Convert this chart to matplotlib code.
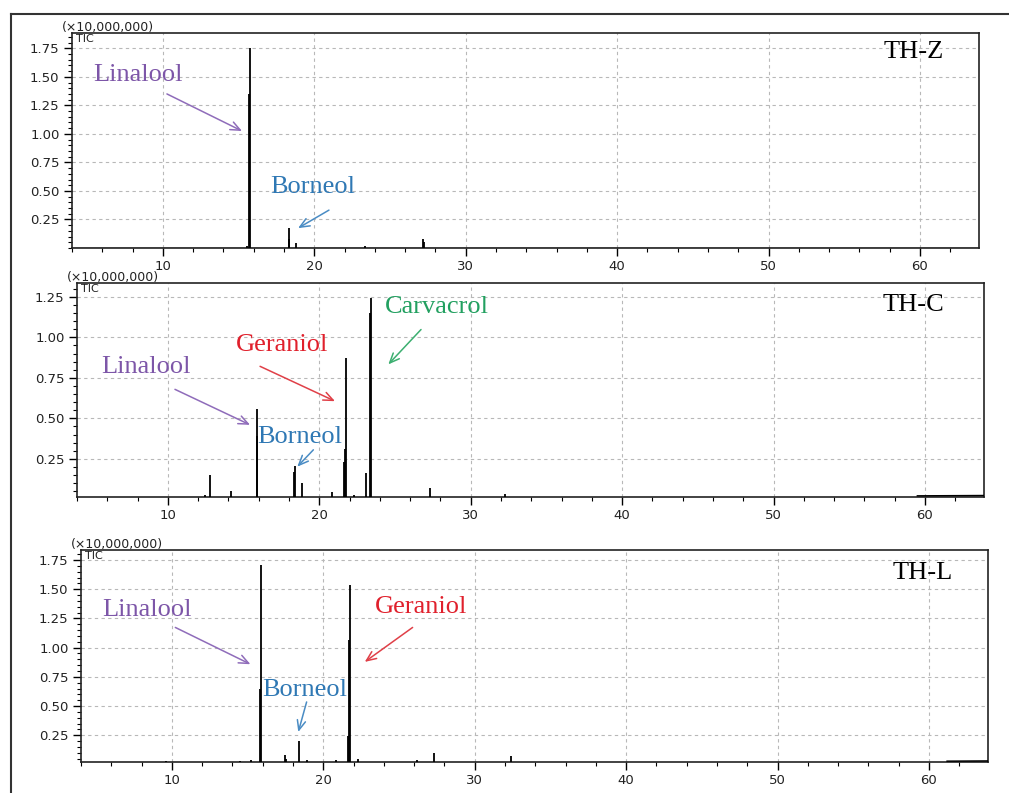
import matplotlib
matplotlib.use('Agg')
import matplotlib.pyplot as plt
from matplotlib.ticker import MultipleLocator, FixedLocator
from matplotlib.lines import Line2D

# retention time (min) and peak height (x 10,000,000)
rt_z = [15.55, 15.72, 15.76, 18.31, 18.36, 18.80, 23.35, 27.20, 27.25]
h_z  = [0.02, 1.35, 1.75, 0.171, 0.08, 0.048, 0.02, 0.077, 0.05]

rt_c = [12.45, 12.78, 14.20, 15.87, 15.91, 18.36, 18.40, 18.86, 20.82, 21.66,
        21.72, 21.75, 22.30, 23.07, 23.38, 23.42, 27.31, 32.27]
h_c  = [0.03, 0.153, 0.054, 0.39, 0.555, 0.167, 0.208, 0.10, 0.043, 0.233,
        0.31, 0.872, 0.03, 0.163, 1.147, 1.24, 0.07, 0.035]

rt_l = [9.60, 14.50, 15.20, 15.85, 15.88, 17.50, 17.55, 18.39, 18.90, 20.87,
        21.66, 21.72, 21.75, 22.30, 26.19, 27.33, 32.41]
h_l  = [0.03, 0.03, 0.035, 0.65, 1.707, 0.079, 0.05, 0.201, 0.04, 0.035,
        0.24, 1.064, 1.535, 0.05, 0.035, 0.098, 0.076]

# baseline drift at the end of the run
drift_c_x = [59.5, 63.9]
drift_c_y = [0.022, 0.024]
drift_l_x = [61.2, 63.9]
drift_l_y = [0.028, 0.03]

sample_names = ["TH-Z", "TH-C", "TH-L"]

XLIM = (4.0, 63.9)
serif = "Liberation Serif"
col = {
    "Linalool": ("#7d56a8", "#8f6cba"),
    "Borneol": ("#2f78b4", "#4a8cc4"),
    "Geraniol": ("#e0202c", "#e04048"),
    "Carvacrol": ("#22a060", "#3caf70"),
}


def chromatogram(fig, rect, rt, h, ylim, yticks, name, name_xy, labels, drift=None):
    ax = fig.add_axes(rect)
    ax.vlines(rt, 0, h, color="k", lw=1.3, zorder=3)
    ax.plot([XLIM[0], XLIM[1]], [0, 0], color="k", lw=1.0)
    if drift is not None:
        ax.plot(drift[0], drift[1], color="k", lw=1.1, zorder=3)
    ax.set_xlim(*XLIM)
    ax.set_ylim(*ylim)

    ax.xaxis.set_major_locator(FixedLocator([10, 20, 30, 40, 50, 60]))
    ax.xaxis.set_minor_locator(MultipleLocator(2))
    ax.yaxis.set_major_locator(FixedLocator(yticks))
    ax.yaxis.set_minor_locator(MultipleLocator(0.05))
    ax.set_yticklabels(["%.2f" % v for v in yticks])
    ax.tick_params(which="major", direction="out", length=6, width=1.0,
                   labelsize=9.5, labelcolor="#222222", pad=3)
    ax.tick_params(axis="x", which="major", pad=2.5)
    ax.tick_params(which="minor", direction="out", length=3, width=0.8)
    ax.grid(True, which="major", color="#b8b8b8", ls=(0, (3, 3)), lw=0.8)
    ax.set_axisbelow(True)
    for s in ax.spines.values():
        s.set_linewidth(1.2)
        s.set_color("#222222")

    ax.text(-0.011, 0.997, "(×10,000,000)", transform=ax.transAxes,
            ha="left", va="bottom", fontsize=9, color="#222222")
    ax.text(0.004, 0.995, "TIC", transform=ax.transAxes,
            ha="left", va="top", fontsize=8, color="#222222")

    ax.text(name_xy[0], name_xy[1], name, fontsize=19, family=serif,
            ha="left", va="center", color="k")

    for lab, txy, start, end in labels:
        tc, ac = col[lab]
        ax.text(txy[0], txy[1], lab, fontsize=19, family=serif,
                ha="left", va="center", color=tc)
        ax.annotate("", xy=end, xytext=start,
                    arrowprops=dict(arrowstyle="->,head_length=0.7,head_width=0.3",
                                    color=ac, lw=1.1, shrinkA=0, shrinkB=0))
    return ax


fig = plt.figure(figsize=[10.09, 7.93], dpi=100)

W, H = 1009.0, 793.0

# outer frame (left and top edge only visible)
fig.add_artist(Line2D([11 / W, 11 / W], [0, 1 - 14 / H], transform=fig.transFigure,
                      color="#333333", lw=1.5))
fig.add_artist(Line2D([11 / W, 1], [1 - 14 / H, 1 - 14 / H], transform=fig.transFigure,
                      color="#333333", lw=1.5))

yt7 = [0.25, 0.50, 0.75, 1.00, 1.25, 1.50, 1.75]
yt5 = [0.25, 0.50, 0.75, 1.00, 1.25]

chromatogram(fig, [72 / W, 1 - 248 / H, (979 - 72) / W, (248 - 33) / H],
             rt_z, h_z, (0, 1.884), yt7, sample_names[0], (57.6, 1.72),
             [("Linalool", (5.4, 1.516), (10.27, 1.35), (15.23, 1.025)),
              ("Borneol", (17.1, 0.536), (20.97, 0.332), (18.93, 0.174))])

chromatogram(fig, [77 / W, 1 - 497 / H, (984 - 77) / W, (497 - 283) / H],
             rt_c, h_c, (0.015, 1.335), yt5, sample_names[1], (57.2, 1.198),
             [("Linalool", (5.6, 0.816), (10.47, 0.679), (15.43, 0.46)),
              ("Geraniol", (14.5, 0.95), (16.09, 0.821), (21.04, 0.606)),
              ("Carvacrol", (24.3, 1.184), (26.72, 1.048), (24.56, 0.833)),
              ("Borneol", (15.9, 0.384), (19.61, 0.306), (18.55, 0.202))],
             drift=(drift_c_x, drift_c_y))

chromatogram(fig, [81 / W, 1 - 762 / H, (988 - 81) / W, (762 - 550) / H],
             rt_l, h_l, (0.021, 1.836), yt7, sample_names[2], (57.6, 1.64),
             [("Linalool", (5.4, 1.321), (10.23, 1.173), (15.19, 0.858)),
              ("Borneol", (15.97, 0.636), (18.9, 0.535), (18.35, 0.278)),
              ("Geraniol", (23.4, 1.349), (25.9, 1.173), (22.74, 0.878))],
             drift=(drift_l_x, drift_l_y))

plt.savefig("out.png", dpi=100)
